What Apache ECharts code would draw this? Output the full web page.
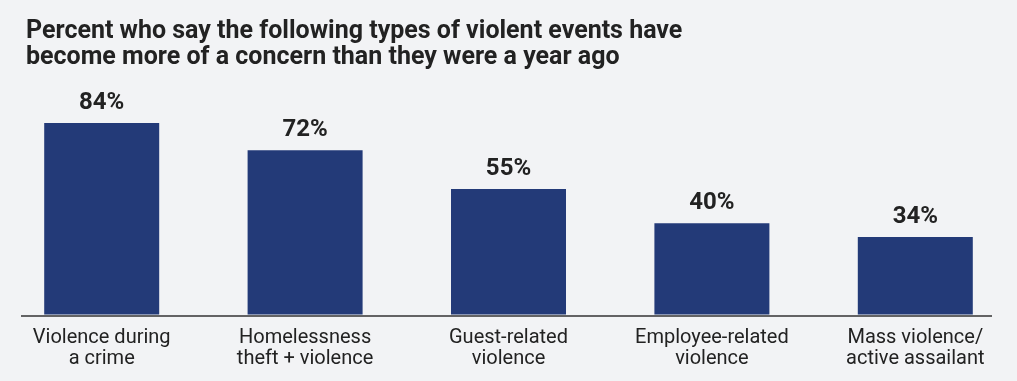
<!DOCTYPE html>
<html><head><meta charset="utf-8">
<script src="https://cdn.jsdelivr.net/npm/echarts@6/dist/echarts.min.js"></script>
<style>html,body{margin:0;padding:0;background:#f2f3f5;}#c{width:1017px;height:381px;}</style>
</head><body><div id="c"></div>
<script>
const titleText = 'Percent who say the following types of violent events have\nbecome more of a concern than they were a year ago';
const categories = ['Violence during\na crime', 'Homelessness\ntheft + violence', 'Guest-related\nviolence', 'Employee-related\nviolence', 'Mass violence/\nactive assailant'];
const values = [84, 72, 55, 40, 34];

const chart = echarts.init(document.getElementById('c'));
chart.setOption({
  backgroundColor: '#f2f3f5',
  animation: false,
  title: {
    text: titleText, left: 21, top: 14,
    textStyle: { fontFamily: 'Roboto', fontWeight: 'bold', fontSize: 25, lineHeight: 26, color: '#222' }
  },
  grid: { left: -3, right: -2, top: 86.5, bottom: 66.5 },
  xAxis: {
    type: 'category', data: categories,
    axisLine: { show: false }, axisTick: { show: false },
    axisLabel: { fontFamily: 'Roboto', fontSize: 20, lineHeight: 21, color: '#222', margin: 13 }
  },
  yAxis: { type: 'value', min: 0, max: 100, show: false, splitLine: { show: false } },
  graphic: [{ type: 'line', shape: { x1: 21, y1: 316, x2: 992, y2: 316 }, style: { stroke: '#333', lineWidth: 1.5 } }],
  series: [{
    type: 'bar', data: values, barWidth: 115,
    itemStyle: { color: '#233a78' },
    label: { show: true, position: 'top', distance: 8, formatter: '{c}%', fontFamily: 'Roboto', fontWeight: 'bold', fontSize: 24, color: '#222' }
  }]
});
</script></body></html>
